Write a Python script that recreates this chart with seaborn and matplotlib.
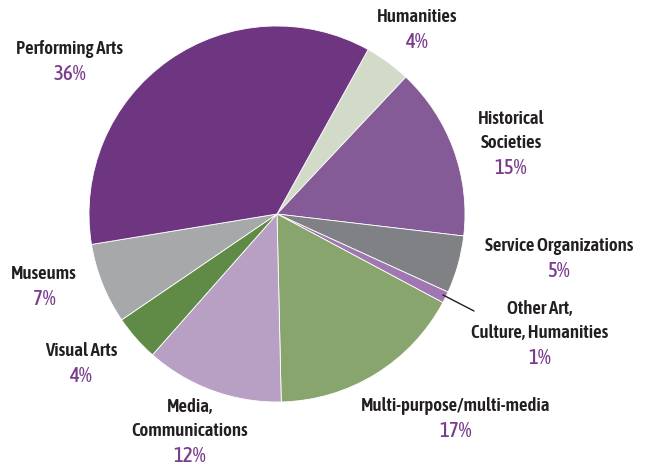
import os
import matplotlib
matplotlib.use("Agg")
import matplotlib.pyplot as plt
from matplotlib import font_manager
import seaborn as sns

# Share of organizations by discipline (clockwise from Humanities)
categories = ["Humanities", "Historical\nSocieties", "Service Organizations",
              "Other Art,\nCulture, Humanities", "Multi-purpose/multi-media",
              "Media,\nCommunications", "Visual Arts", "Museums", "Performing Arts"]
shares = [4, 15, 5, 1, 17, 12, 4, 7, 36]
colors = ["#d2dbc7", "#845a97", "#808184", "#a077b0", "#87a56d",
          "#b8a0c5", "#5f8b47", "#a7a8aa", "#6e3581"]

# Label anchor points (pixel space, y measured from top)
label_x = [417, 511, 559, 540, 456, 190, 81, 44, 70]
label_y = [17, 119, 246, 309, 406, 407, 351, 274, 49]

sns.set_theme(style="white")

font_files = {os.path.basename(f.fname): f.fname for f in font_manager.fontManager.ttflist}


def pick(*candidates):
    for c in candidates:
        if c in font_files:
            return font_files[c]
    return None


name_file = pick("AsapCondensed-SemiBold.ttf", "AsapCondensed-Bold.ttf",
                 "BarlowCondensed-SemiBold.ttf", "DejaVuSansCondensed-Bold.ttf")
pct_file = pick("AsapCondensed-Medium.ttf", "AsapCondensed-Regular.ttf",
                "BarlowCondensed-Medium.ttf", "DejaVuSansCondensed.ttf")
name_font = font_manager.FontProperties(fname=name_file, size=13.5)
pct_font = font_manager.FontProperties(fname=pct_file, size=15)

W, H = 651, 465
fig = plt.figure(figsize=(W / 100, H / 100), dpi=100)
ax = fig.add_axes([0, 0, 1, 1])

cx, cy, r = 277, H - 214, 188
ax.pie(shares, colors=colors, startangle=61, counterclock=False,
       center=(cx, cy), radius=r, frame=True,
       wedgeprops=dict(edgecolor="white", linewidth=0.6))
ax.set_xlim(0, W)
ax.set_ylim(0, H)
ax.set_aspect("equal")
ax.axis("off")

name_color = "#231f20"
pct_color = "#7a3c8d"
line_h = 24
for name, val, x, y in zip(categories, shares, label_x, label_y):
    lines = name.split("\n")
    for i, ln in enumerate(lines):
        ax.text(x, H - (y + i * line_h), ln, ha="center", va="center",
                fontproperties=name_font, color=name_color)
    ax.text(x, H - (y + len(lines) * line_h + 1), f"{val}%", ha="center",
            va="center", fontproperties=pct_font, color=pct_color)

# Leader line for the thin "Other" wedge
ax.plot([443, 474], [H - 295, H - 311], color="#231f20", lw=1)

fig.savefig("out.png", dpi=100)
